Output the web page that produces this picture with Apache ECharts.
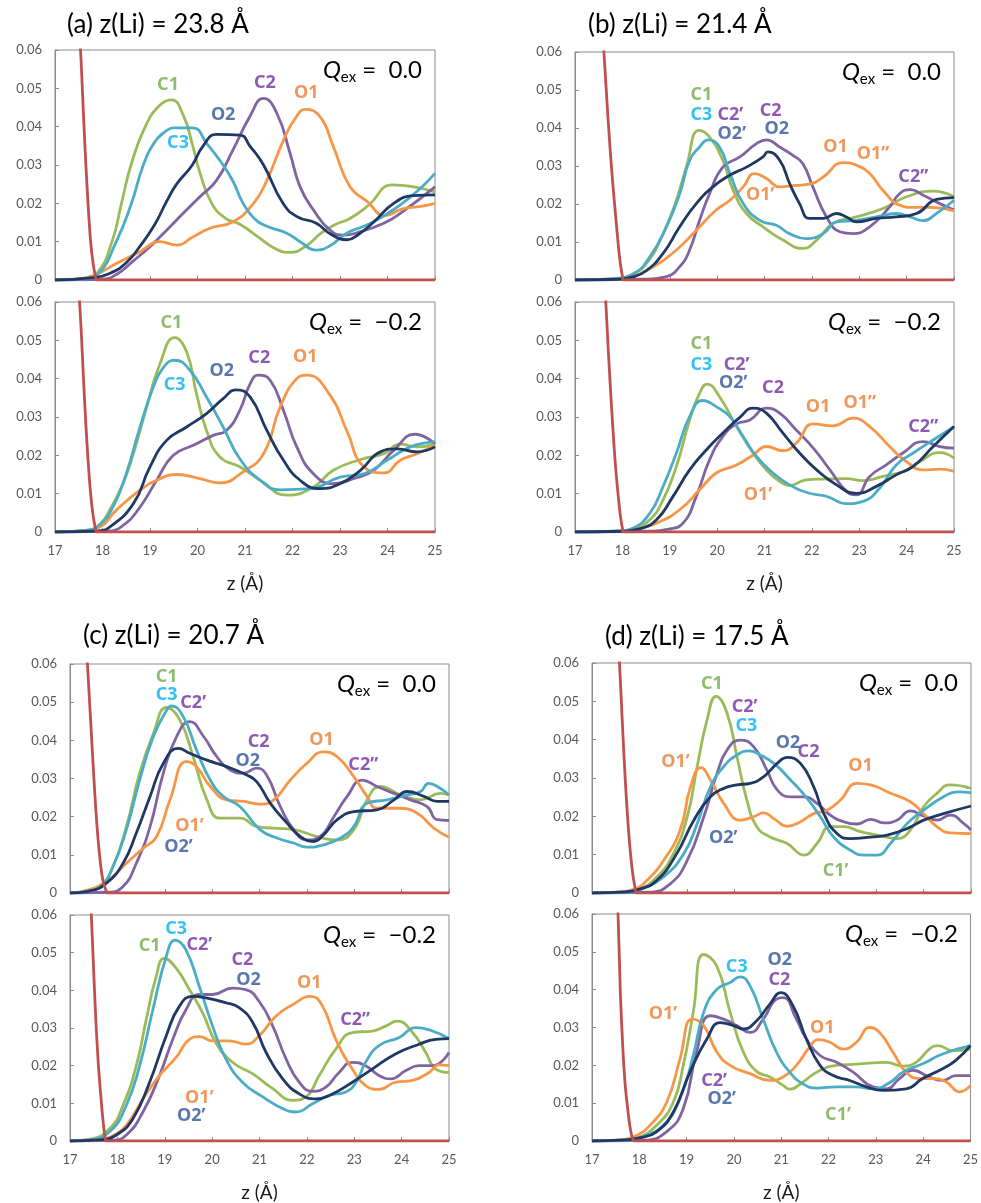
<!DOCTYPE html>
<html lang="en">
<head>
  <meta charset="UTF-8">
  <title>Density profiles</title>
  <script src="https://cdn.jsdelivr.net/npm/echarts@6/dist/echarts.min.js"></script>
  <style>
    html, body { margin: 0; padding: 0; background: #fff; }
    #wrap { width: 981px; height: 1203px; }
  </style>
</head>
<body>
<div id="wrap"></div>
<script>
  // ---- data: [z (Å), density] ----
  const titles = ['(a) z(Li) = 23.8 Å', '(b) z(Li) = 21.4 Å', '(c) z(Li) = 20.7 Å', '(d) z(Li) = 17.5 Å']
  const qexValues = ['0.0', '\u22120.2']
  const xTicks = [17, 18, 19, 20, 21, 22, 23, 24, 25]

  // (a) top, Qex = 0.0
  const a0Red = [[17.45,0.078],[17.5,0.068],[17.55,0.057],[17.6,0.043],[17.65,0.03],[17.7,0.019],[17.75,0.01],[17.8,0.0045],[17.85,0.001],[17.88,0],[18.2,0],[25,0]]
  const a0C1 = [[17,0],[17.6,0.0004],[17.9,0.002],[18.2,0.01],[18.4,0.02],[18.6,0.03],[18.9,0.04],[19.2,0.0455],[19.45,0.047],[19.7,0.043],[19.9,0.035],[20.05,0.028],[20.3,0.02],[20.6,0.016],[20.9,0.0145],[21.3,0.011],[21.7,0.0078],[21.95,0.0072],[22.3,0.009],[22.6,0.0122],[22.9,0.0145],[23.2,0.016],[23.6,0.0195],[24.1,0.0248],[24.5,0.0244],[25,0.023]]
  const a0C3 = [[17,0],[17.6,0.0003],[17.9,0.0015],[18.29,0.01],[18.61,0.02],[18.86,0.03],[19.1,0.036],[19.3,0.0385],[19.5,0.0397],[19.9,0.0397],[20.2,0.0355],[20.54,0.03],[20.75,0.0257],[20.96,0.02],[21.2,0.016],[21.46,0.014],[21.88,0.0122],[22.16,0.01],[22.5,0.0078],[22.8,0.009],[23.14,0.0122],[23.5,0.014],[23.78,0.0157],[24.27,0.0196],[24.7,0.024],[25,0.0278]]
  const a0O2 = [[17,0],[17.8,0.0006],[18.15,0.0017],[18.5,0.0045],[18.8,0.009],[19.1,0.0145],[19.35,0.0205],[19.56,0.025],[19.88,0.0298],[20.12,0.035],[20.4,0.038],[20.9,0.0378],[21.1,0.035],[21.39,0.03],[21.8,0.02],[22.1,0.0165],[22.5,0.0148],[22.8,0.012],[23.15,0.0105],[23.4,0.012],[23.7,0.015],[24.13,0.02],[24.55,0.022],[25,0.0222]]
  const a0C2 = [[17,0],[18,0.0002],[18.3,0.0015],[18.65,0.005],[19.0,0.0087],[19.35,0.013],[19.7,0.0174],[20.05,0.0217],[20.4,0.026],[20.75,0.034],[21.1,0.0426],[21.39,0.0474],[21.67,0.0435],[21.95,0.033],[22.16,0.0243],[22.44,0.0183],[22.79,0.013],[23.07,0.0117],[23.43,0.0126],[23.92,0.0148],[24.27,0.0174],[25,0.0243]]
  const a0O1 = [[17,0],[17.5,0.0003],[17.87,0.0015],[18.29,0.0043],[18.79,0.0074],[19.21,0.01],[19.56,0.0091],[19.91,0.0113],[20.26,0.0135],[20.75,0.0152],[21.18,0.02],[21.46,0.026],[21.81,0.0365],[22.05,0.042],[22.27,0.0445],[22.58,0.0426],[22.86,0.0348],[23.21,0.0243],[23.57,0.0205],[23.95,0.0168],[24.3,0.0185],[24.7,0.0192],[25,0.02]]
  const a0Labels = [[19.38,0.0509,'C1'],[19.59,0.0358,'C3'],[20.54,0.043,'O2'],[21.42,0.0513,'C2'],[22.29,0.0487,'O1']]

  // (a) bottom, Qex = -0.2
  const a1Red = [[17.45,0.08],[17.5,0.064],[17.55,0.053],[17.6,0.04],[17.65,0.028],[17.7,0.018],[17.75,0.01],[17.8,0.0045],[17.85,0.001],[17.88,0],[18.2,0],[25,0]]
  const a1C1 = [[17,0],[17.7,0.0005],[17.95,0.002],[18.15,0.0057],[18.43,0.0126],[18.65,0.0204],[18.93,0.0326],[19.21,0.0439],[19.52,0.0507],[19.77,0.047],[19.98,0.036],[20.19,0.0265],[20.47,0.0196],[20.89,0.017],[21.32,0.0135],[21.88,0.0096],[22.44,0.0117],[22.86,0.0161],[23.43,0.0189],[23.92,0.0204],[24.27,0.0229],[24.62,0.0222],[25,0.023]]
  const a1C3 = [[17,0],[17.7,0.0005],[17.95,0.002],[18.22,0.0065],[18.5,0.0152],[18.79,0.0274],[19.07,0.0378],[19.28,0.0429],[19.52,0.0448],[19.84,0.0422],[20.19,0.0352],[20.54,0.0274],[20.89,0.0191],[21.32,0.0135],[21.74,0.011],[22.37,0.0113],[23.0,0.0143],[23.5,0.0152],[23.99,0.0187],[24.48,0.0222],[25,0.0235]]
  const a1O2 = [[17,0],[17.9,0.0003],[18.15,0.0013],[18.65,0.0074],[19.0,0.017],[19.35,0.0239],[19.77,0.0274],[20.19,0.0309],[20.54,0.0348],[20.82,0.0371],[21.11,0.0352],[21.46,0.0265],[21.81,0.0187],[22.16,0.0135],[22.58,0.0113],[23.0,0.0126],[23.43,0.0161],[23.85,0.0209],[24.2,0.0217],[24.62,0.0209],[25,0.0222]]
  const a1C2 = [[17,0],[18.1,0.0002],[18.43,0.0017],[18.79,0.0065],[19.14,0.0135],[19.49,0.02],[19.91,0.0226],[20.33,0.0252],[20.61,0.0265],[20.89,0.0317],[21.11,0.0387],[21.28,0.0409],[21.53,0.0396],[21.81,0.0317],[22.09,0.0222],[22.44,0.0152],[22.86,0.0126],[23.28,0.0139],[23.71,0.0161],[24.13,0.0213],[24.58,0.0255],[25,0.023]]
  const a1O1 = [[17,0],[17.6,0.0004],[17.94,0.0013],[18.29,0.0057],[18.79,0.0109],[19.21,0.0139],[19.56,0.015],[20.05,0.0139],[20.47,0.0128],[20.96,0.0157],[21.39,0.0204],[21.74,0.0326],[22.09,0.04],[22.3,0.0409],[22.79,0.0357],[23.14,0.0265],[23.5,0.017],[23.92,0.0154],[24.27,0.0187],[24.62,0.0204],[25,0.0226]]
  const a1Labels = [[19.45,0.0545,'C1'],[19.52,0.0385,'C3'],[20.51,0.042,'O2'],[21.3,0.0454,'C2'],[22.27,0.0458,'O1']]

  // (b) top
  const b0Red = [[17.55,0.072],[17.6,0.062],[17.65,0.052],[17.7,0.042],[17.75,0.033],[17.8,0.025],[17.85,0.018],[17.9,0.011],[17.95,0.005],[18.0,0.001],[18.02,0],[18.3,0],[25,0]]
  const b0C1 = [[17,0],[17.8,0.0003],[18.15,0.0012],[18.51,0.0044],[18.86,0.0122],[19.14,0.021],[19.35,0.0297],[19.62,0.0394],[19.84,0.0376],[20.12,0.0315],[20.34,0.0236],[20.62,0.0175],[20.97,0.014],[21.39,0.0105],[21.81,0.0083],[22.1,0.0105],[22.45,0.0149],[22.94,0.0166],[23.5,0.0188],[24.0,0.0219],[24.56,0.0234],[25,0.0219]]
  const b0C3 = [[17,0],[17.8,0.0003],[18.22,0.0015],[18.58,0.0061],[18.93,0.014],[19.21,0.0227],[19.42,0.0315],[19.63,0.035],[19.81,0.0369],[20.05,0.035],[20.27,0.028],[20.55,0.0201],[20.9,0.0157],[21.25,0.0144],[21.53,0.0122],[21.88,0.0109],[22.24,0.0122],[22.52,0.0153],[22.94,0.0157],[23.36,0.0166],[23.78,0.0175],[24.07,0.0166],[24.35,0.0156],[24.63,0.0175],[25,0.021]]
  const b0O2 = [[17,0],[17.9,0.0002],[18.22,0.0008],[18.51,0.0025],[18.86,0.007],[19.21,0.014],[19.56,0.0201],[19.91,0.0245],[20.27,0.0276],[20.62,0.0297],[20.97,0.0324],[21.07,0.0337],[21.32,0.0315],[21.53,0.0254],[21.74,0.0201],[21.95,0.0162],[22.24,0.0162],[22.52,0.0175],[22.73,0.0166],[22.94,0.0153],[23.36,0.0162],[23.78,0.0166],[24.21,0.0175],[24.63,0.0212],[25,0.0217]]
  const b0C2 = [[17,0],[18.5,0.0002],[18.93,0.0009],[19.21,0.0035],[19.42,0.0079],[19.63,0.0157],[19.84,0.0227],[20.12,0.0297],[20.48,0.0324],[20.83,0.0359],[21.04,0.0369],[21.32,0.035],[21.6,0.0328],[21.81,0.0306],[22.02,0.0245],[22.31,0.0166],[22.59,0.0127],[22.87,0.0122],[23.22,0.014],[23.64,0.0192],[23.85,0.0227],[24.08,0.0238],[24.35,0.0223],[24.7,0.0201],[25,0.0184]]
  const b0O1 = [[17,0],[17.9,0.0002],[18.2,0.0008],[18.65,0.0035],[19.14,0.0079],[19.56,0.0131],[19.98,0.0184],[20.27,0.021],[20.55,0.0245],[20.79,0.028],[21.04,0.0267],[21.32,0.0245],[21.67,0.0249],[21.95,0.0252],[22.24,0.0271],[22.66,0.0309],[22.94,0.0302],[23.22,0.028],[23.5,0.0236],[23.85,0.0197],[24.14,0.0191],[24.49,0.0191],[25,0.0182]]
  const b0Labels = [[19.67,0.0487,'C1'],[19.67,0.0435,'C3'],[20.28,0.0435,'C2\u2019'],[20.31,0.0385,'O2\u2019'],[21.13,0.0446,'C2'],[21.26,0.0398,'O2'],[22.5,0.035,'O1'],[23.29,0.0331,'O1\u201D'],[20.91,0.0223,'O1\u2019'],[24.14,0.0271,'C2\u201D']]

  // (b) bottom
  const b1Red = [[17.6,0.07],[17.65,0.06],[17.7,0.048],[17.75,0.037],[17.8,0.027],[17.85,0.018],[17.9,0.011],[17.95,0.005],[18.0,0.001],[18.02,0],[18.3,0],[25,0]]
  const b1C1 = [[17,0],[17.9,0.0002],[18.22,0.0008],[18.58,0.0032],[18.86,0.0084],[19.14,0.0171],[19.42,0.0292],[19.63,0.0362],[19.79,0.0386],[20.05,0.0353],[20.41,0.0275],[20.76,0.0206],[21.04,0.0162],[21.32,0.0132],[21.53,0.0121],[21.88,0.0136],[22.24,0.0138],[22.73,0.0139],[23.08,0.0134],[23.5,0.0145],[23.92,0.0158],[24.28,0.0184],[24.7,0.0207],[25,0.0193]]
  const b1C3 = [[17,0],[17.9,0.0002],[18.22,0.001],[18.58,0.0049],[18.86,0.0119],[19.14,0.0206],[19.42,0.0301],[19.7,0.0343],[19.98,0.0327],[20.27,0.0301],[20.55,0.0249],[20.83,0.0197],[21.18,0.0154],[21.53,0.0123],[21.95,0.0101],[22.31,0.0093],[22.73,0.0074],[23.08,0.008],[23.43,0.0114],[23.78,0.0175],[24.14,0.0206],[24.56,0.024],[25,0.0275]]
  const b1O2 = [[17,0],[18.0,0.0002],[18.36,0.0008],[18.72,0.0032],[19.07,0.0093],[19.42,0.0162],[19.77,0.0214],[20.12,0.0258],[20.48,0.0299],[20.76,0.0323],[21.04,0.031],[21.39,0.0258],[21.74,0.0206],[22.1,0.0162],[22.52,0.0123],[22.94,0.0101],[23.36,0.0119],[23.78,0.0149],[24.14,0.0171],[24.56,0.0223],[25,0.0275]]
  const b1C2 = [[17,0],[18.6,0.0002],[18.95,0.0007],[19.28,0.0023],[19.56,0.0093],[19.84,0.0188],[20.12,0.0249],[20.41,0.0282],[20.69,0.0292],[21.04,0.0323],[21.32,0.031],[21.67,0.0266],[22.03,0.0219],[22.38,0.0162],[22.73,0.0106],[22.94,0.0097],[23.22,0.0145],[23.57,0.0175],[23.92,0.0206],[24.35,0.0236],[24.7,0.0223],[25,0.0219]]
  const b1O1 = [[17,0],[17.9,0.0002],[18.3,0.0008],[18.72,0.0023],[19.21,0.0058],[19.63,0.011],[19.98,0.0154],[20.41,0.0175],[20.76,0.0201],[21.04,0.0223],[21.39,0.0212],[21.67,0.0232],[22.03,0.0282],[22.45,0.0277],[22.87,0.0297],[23.22,0.0275],[23.64,0.0223],[23.99,0.0184],[24.35,0.0162],[24.7,0.0164],[25,0.0158]]
  const b1Labels = [[19.67,0.049,'C1'],[19.67,0.0435,'C3'],[20.41,0.0435,'C2\u2019'],[20.34,0.0388,'O2\u2019'],[21.18,0.0376,'C2'],[22.13,0.0327,'O1'],[23.01,0.0336,'O1\u201D'],[20.86,0.0097,'O1\u2019'],[24.35,0.0275,'C2\u201D']]

  // (c) top
  const c0Red = [[17.3,0.075],[17.35,0.064],[17.4,0.053],[17.45,0.042],[17.5,0.031],[17.55,0.021],[17.6,0.013],[17.65,0.007],[17.7,0.003],[17.75,0.001],[17.8,0],[18.1,0],[25,0]]
  const c0C1 = [[17,0],[17.3,0.0003],[17.63,0.0017],[17.91,0.007],[18.19,0.0174],[18.47,0.0314],[18.76,0.0418],[19.04,0.0486],[19.32,0.0453],[19.6,0.0357],[19.89,0.0244],[20.17,0.0196],[20.59,0.0196],[20.94,0.0174],[21.3,0.017],[21.72,0.0166],[22.21,0.0148],[22.64,0.0139],[22.99,0.0166],[23.27,0.0244],[23.55,0.0279],[23.98,0.0257],[24.4,0.0244],[24.82,0.0261],[25,0.0257]]
  const c0C3 = [[17,0],[17.3,0.0003],[17.63,0.0015],[17.91,0.007],[18.19,0.0166],[18.47,0.0296],[18.76,0.041],[19.04,0.0479],[19.14,0.049],[19.39,0.0462],[19.67,0.0375],[19.96,0.0296],[20.24,0.0253],[20.59,0.0226],[21.01,0.0166],[21.37,0.0144],[21.72,0.0131],[22.0,0.012],[22.35,0.0126],[22.71,0.0144],[22.99,0.0174],[23.27,0.0235],[23.69,0.0244],[24.12,0.0257],[24.4,0.0266],[24.57,0.0287],[24.82,0.0274],[25,0.0257]]
  const c0O2 = [[17,0],[17.4,0.0005],[17.77,0.0026],[18.12,0.0078],[18.4,0.0157],[18.69,0.0253],[18.97,0.034],[19.29,0.0379],[19.53,0.0366],[19.89,0.0348],[20.31,0.0331],[20.73,0.0309],[20.94,0.0292],[21.23,0.0235],[21.58,0.0183],[21.86,0.0148],[22.14,0.0135],[22.35,0.0152],[22.64,0.0192],[22.99,0.0213],[23.48,0.0218],[23.84,0.0244],[24.12,0.0266],[24.47,0.0253],[24.75,0.024],[25,0.024]]
  const c0C2 = [[17,0],[17.8,0.0002],[18.12,0.0017],[18.4,0.0078],[18.69,0.0174],[18.97,0.0314],[19.25,0.041],[19.53,0.0449],[19.82,0.041],[20.1,0.0357],[20.38,0.0322],[20.66,0.0314],[20.94,0.0327],[21.15,0.0309],[21.44,0.0226],[21.72,0.0166],[22.0,0.0139],[22.28,0.0148],[22.57,0.02],[22.85,0.0253],[23.17,0.0296],[23.48,0.0279],[23.84,0.0261],[24.19,0.0244],[24.54,0.0226],[24.75,0.0192],[25,0.019]]
  const c0O1 = [[17,0],[17.3,0.0005],[17.6,0.0018],[17.91,0.0044],[18.19,0.0078],[18.55,0.0118],[18.83,0.0148],[19.11,0.0244],[19.46,0.0344],[19.67,0.0331],[19.96,0.0279],[20.31,0.0244],[20.66,0.024],[21.01,0.0233],[21.3,0.0244],[21.65,0.0296],[22.0,0.034],[22.35,0.037],[22.64,0.0357],[22.99,0.0305],[23.27,0.0253],[23.48,0.0222],[23.91,0.0222],[24.33,0.0209],[24.68,0.017],[25,0.0146]]
  const c0Labels = [[19.04,0.0566,'C1'],[19.04,0.052,'C3'],[19.6,0.0498,'C2\u2019'],[20.98,0.0395,'C2'],[20.75,0.0347,'O2'],[22.31,0.0402,'O1'],[23.19,0.0335,'C2\u201D'],[19.52,0.0177,'O1\u2019'],[19.29,0.0122,'O2\u2019']]

  // (c) bottom
  const c1Red = [[17.4,0.072],[17.45,0.06],[17.5,0.045],[17.55,0.031],[17.6,0.02],[17.65,0.012],[17.7,0.005],[17.74,0.001],[17.77,0],[18.1,0],[25,0]]
  const c1C1 = [[17,0],[17.4,0.0004],[17.84,0.0033],[18.12,0.0095],[18.4,0.02],[18.61,0.0323],[18.82,0.0437],[18.99,0.0485],[19.24,0.0459],[19.52,0.0402],[19.8,0.034],[20.08,0.0261],[20.43,0.0209],[20.86,0.0178],[21.28,0.0139],[21.7,0.0108],[21.98,0.0117],[22.26,0.0174],[22.61,0.0244],[22.96,0.0288],[23.38,0.0292],[23.66,0.0305],[23.91,0.0318],[24.23,0.0288],[24.51,0.0235],[24.72,0.0191],[25,0.0182]]
  const c1C3 = [[17,0],[17.4,0.0003],[17.84,0.0025],[18.19,0.0095],[18.47,0.02],[18.75,0.0349],[19.03,0.0489],[19.22,0.0533],[19.45,0.0507],[19.73,0.041],[20.01,0.0305],[20.29,0.0218],[20.64,0.0156],[21.07,0.0117],[21.49,0.0086],[21.77,0.0077],[22.12,0.0099],[22.47,0.0121],[22.82,0.013],[23.04,0.0156],[23.24,0.0209],[23.52,0.0253],[23.95,0.0275],[24.3,0.0301],[24.65,0.0292],[25,0.0272]]
  const c1O2 = [[17,0],[17.6,0.0003],[17.98,0.0016],[18.33,0.006],[18.68,0.0156],[19.03,0.0279],[19.31,0.0358],[19.59,0.0384],[19.87,0.038],[20.29,0.0367],[20.57,0.0354],[20.86,0.0314],[21.14,0.0235],[21.49,0.0165],[21.84,0.0125],[22.19,0.0112],[22.54,0.0125],[22.96,0.0156],[23.38,0.0191],[23.87,0.0231],[24.37,0.0257],[24.72,0.027],[25,0.0272]]
  const c1C2 = [[17,0],[17.9,0.0002],[18.19,0.0016],[18.54,0.0077],[18.89,0.0174],[19.17,0.027],[19.45,0.0349],[19.73,0.0389],[20.01,0.0389],[20.43,0.0406],[20.71,0.0402],[20.99,0.0371],[21.28,0.0305],[21.56,0.0218],[21.84,0.0156],[22.12,0.0132],[22.4,0.0143],[22.68,0.0182],[22.96,0.0209],[23.24,0.02],[23.52,0.0174],[23.77,0.0165],[24.09,0.0187],[24.37,0.02],[24.65,0.02],[25,0.0235]]
  const c1O1 = [[17,0],[17.6,0.0003],[17.84,0.001],[18.19,0.0042],[18.54,0.0112],[18.89,0.0174],[19.24,0.0222],[19.52,0.027],[19.73,0.0277],[20.01,0.0266],[20.36,0.0266],[20.71,0.0257],[20.99,0.0279],[21.35,0.0332],[21.7,0.0362],[22.08,0.0384],[22.33,0.0358],[22.61,0.027],[22.96,0.0191],[23.24,0.0147],[23.52,0.0137],[23.87,0.0156],[24.23,0.0161],[24.58,0.0182],[24.79,0.0202],[25,0.02]]
  const c1Labels = [[19.24,0.0564,'C3'],[18.68,0.0518,'C1'],[19.73,0.052,'C2\u2019'],[20.64,0.0481,'C2'],[20.77,0.0428,'O2'],[22.05,0.0421,'O1'],[23.02,0.0321,'C2\u201D'],[19.73,0.0115,'O1\u2019'],[19.56,0.0066,'O2\u2019']]

  // (d) top
  const d0Red = [[17.5,0.078],[17.55,0.067],[17.6,0.055],[17.65,0.042],[17.7,0.03],[17.75,0.02],[17.8,0.012],[17.85,0.006],[17.9,0.002],[17.95,0],[18.3,0],[25,0]]
  const d0C1 = [[17,0],[17.7,0.0003],[17.95,0.0008],[18.37,0.0042],[18.72,0.0103],[19.01,0.0199],[19.22,0.033],[19.43,0.0452],[19.62,0.0513],[19.85,0.0469],[20.06,0.0356],[20.27,0.0242],[20.48,0.0173],[20.76,0.0146],[21.12,0.0129],[21.47,0.0099],[21.75,0.0129],[22.03,0.0173],[22.31,0.0173],[22.67,0.016],[23.02,0.0151],[23.44,0.0142],[23.72,0.0164],[24.0,0.0225],[24.28,0.026],[24.56,0.0282],[25,0.0273]]
  const d0C3 = [[17,0],[17.8,0.0003],[18.05,0.001],[18.51,0.0042],[18.94,0.0103],[19.22,0.0181],[19.5,0.0277],[19.78,0.033],[20.06,0.036],[20.31,0.0371],[20.55,0.036],[20.84,0.0338],[21.19,0.0295],[21.54,0.0247],[21.82,0.0199],[22.1,0.0146],[22.45,0.0112],[22.74,0.0099],[23.02,0.0099],[23.3,0.0129],[23.65,0.0181],[24.0,0.0216],[24.42,0.0251],[24.71,0.0264],[25,0.0262]]
  const d0O2 = [[17,0],[17.7,0.0003],[18.0,0.001],[18.37,0.0033],[18.79,0.0103],[19.15,0.019],[19.5,0.0251],[19.78,0.0273],[20.06,0.0282],[20.34,0.0286],[20.62,0.0303],[20.91,0.0338],[21.12,0.0354],[21.4,0.0338],[21.68,0.0277],[21.89,0.0208],[22.17,0.0155],[22.45,0.0142],[22.88,0.0146],[23.23,0.0151],[23.65,0.0168],[24.0,0.019],[24.42,0.0207],[25,0.0227]]
  const d0C2 = [[17,0],[18.2,0.0002],[18.65,0.0024],[19.01,0.0085],[19.36,0.0199],[19.64,0.0312],[19.85,0.0373],[20.13,0.0399],[20.41,0.0382],[20.69,0.0321],[20.91,0.0269],[21.19,0.0251],[21.47,0.0251],[21.75,0.0234],[22.03,0.0203],[22.31,0.0186],[22.6,0.018],[22.88,0.0192],[23.16,0.0183],[23.44,0.019],[23.72,0.0214],[24.0,0.0201],[24.28,0.019],[24.56,0.0203],[24.85,0.0181],[25,0.0164]]
  const d0O1 = [[17,0],[17.6,0.0003],[17.9,0.001],[18.16,0.0033],[18.51,0.0085],[18.86,0.0164],[19.08,0.0277],[19.3,0.0327],[19.5,0.0295],[19.78,0.0234],[20.13,0.019],[20.41,0.0199],[20.62,0.0209],[20.84,0.0194],[21.12,0.0174],[21.4,0.0186],[21.68,0.0207],[21.96,0.0216],[22.24,0.0242],[22.59,0.0286],[22.88,0.0282],[23.3,0.026],[23.72,0.0238],[24.0,0.0207],[24.28,0.0173],[24.56,0.0157],[25,0.0155]]
  const d0Labels = [[19.53,0.0546,'C1'],[20.22,0.0486,'C2\u2019'],[20.26,0.0436,'C3'],[21.14,0.0392,'O2'],[21.57,0.0368,'C2'],[22.67,0.0331,'O1'],[18.76,0.0343,'O1\u2019'],[19.77,0.0144,'O2\u2019'],[22.14,0.0057,'C1\u2019']]

  // (d) bottom
  const d1Red = [[17.5,0.072],[17.55,0.06],[17.6,0.039],[17.65,0.025],[17.7,0.015],[17.75,0.009],[17.8,0.004],[17.85,0.001],[17.9,0],[18.2,0],[25,0]]
  const d1C1 = [[17,0],[17.7,0.0003],[17.95,0.0008],[18.37,0.0042],[18.72,0.0103],[18.93,0.02],[19.14,0.034],[19.36,0.0493],[19.64,0.0462],[19.92,0.034],[20.2,0.0235],[20.48,0.0184],[20.76,0.0169],[21.04,0.0147],[21.18,0.0137],[21.46,0.0156],[21.75,0.0182],[22.17,0.02],[22.59,0.0203],[23.22,0.0208],[23.57,0.0198],[23.85,0.0208],[24.13,0.0243],[24.31,0.0252],[24.63,0.0239],[25,0.0243]]
  const d1C3 = [[17,0],[17.8,0.0003],[18.05,0.001],[18.51,0.0042],[18.86,0.0112],[19.14,0.0226],[19.36,0.034],[19.64,0.0401],[19.92,0.0419],[20.13,0.0434],[20.34,0.041],[20.62,0.0322],[20.9,0.0235],[21.18,0.0182],[21.46,0.0151],[21.75,0.014],[22.17,0.0143],[22.59,0.0143],[22.94,0.0138],[23.29,0.0154],[23.57,0.0182],[23.99,0.0204],[24.41,0.023],[25,0.0252]]
  const d1O2 = [[17,0],[17.7,0.0003],[18.0,0.0008],[18.37,0.0025],[18.72,0.0077],[19.07,0.0182],[19.43,0.027],[19.71,0.0313],[19.99,0.0305],[20.2,0.0296],[20.48,0.0318],[20.76,0.0362],[20.99,0.0392],[21.25,0.0357],[21.53,0.027],[21.82,0.02],[22.1,0.0173],[22.45,0.016],[22.8,0.0143],[23.15,0.0134],[23.64,0.0138],[23.99,0.0165],[24.41,0.0191],[24.69,0.0213],[25,0.0252]]
  const d1C2 = [[17,0],[18.1,0.0002],[18.58,0.0025],[18.93,0.0086],[19.21,0.0235],[19.5,0.0331],[19.78,0.0322],[20.06,0.0305],[20.34,0.0287],[20.62,0.0322],[20.9,0.0375],[21.04,0.0379],[21.32,0.0322],[21.53,0.027],[21.82,0.0226],[22.17,0.0208],[22.52,0.0182],[22.94,0.0143],[23.22,0.0138],[23.5,0.0165],[23.78,0.0187],[24.13,0.0169],[24.41,0.016],[24.69,0.0173],[25,0.0173]]
  const d1O1 = [[17,0],[17.6,0.0003],[17.9,0.0012],[18.23,0.0042],[18.58,0.0103],[18.86,0.0217],[19.12,0.0322],[19.36,0.0305],[19.64,0.0235],[19.92,0.02],[20.34,0.0178],[20.76,0.016],[21.04,0.0169],[21.32,0.02],[21.6,0.0248],[21.78,0.0268],[22.03,0.0261],[22.31,0.0243],[22.59,0.0261],[22.87,0.03],[23.08,0.0287],[23.36,0.0235],[23.64,0.0182],[23.92,0.0165],[24.21,0.0165],[24.49,0.0156],[24.77,0.013],[25,0.0147]]
  const d1Labels = [[20.06,0.0461,'C3'],[20.97,0.048,'O2'],[20.96,0.0426,'C2'],[18.5,0.0335,'O1\u2019'],[21.87,0.03,'O1'],[19.58,0.016,'C2\u2019'],[19.74,0.0112,'O2\u2019'],[22.2,0.0068,'C1\u2019']]

  // ---- layout & style ----
  const FONT = 'Lato, "Open Sans", sans-serif'
  const LABEL_FONT = '"Noto Sans", "Open Sans", sans-serif'
  const lineColors = { C1: '#9BBB59', C3: '#4BACC6', O2: '#1F3864', C2: '#8064A2', O1: '#F79646', red: '#C0504D' }
  const labelColors = { C1: '#70AD47', C3: '#00B0F0', O2: '#2F5597', C2: '#7030A0', O1: '#ED7D31' }

  // [left, top, width, height] of each plot box, q = index into qexValues
  const panels = [
    { rect: [55, 50, 380, 230], q: 0, bottom: false, s: { red: a0Red, C1: a0C1, C3: a0C3, O2: a0O2, C2: a0C2, O1: a0O1 }, labels: a0Labels },
    { rect: [55, 302, 380, 230], q: 1, bottom: true,  s: { red: a1Red, C1: a1C1, C3: a1C3, O2: a1O2, C2: a1C2, O1: a1O1 }, labels: a1Labels },
    { rect: [575, 52, 379, 228], q: 0, bottom: false, s: { red: b0Red, C1: b0C1, C3: b0C3, O2: b0O2, C2: b0C2, O1: b0O1 }, labels: b0Labels },
    { rect: [575, 302, 379, 230], q: 1, bottom: true,  s: { red: b1Red, C1: b1C1, C3: b1C3, O2: b1O2, C2: b1C2, O1: b1O1 }, labels: b1Labels },
    { rect: [70, 664, 379, 229], q: 0, bottom: false, s: { red: c0Red, C1: c0C1, C3: c0C3, O2: c0O2, C2: c0C2, O1: c0O1 }, labels: c0Labels },
    { rect: [70, 915, 379, 228], q: 1, bottom: true,  s: { red: c1Red, C1: c1C1, C3: c1C3, O2: c1O2, C2: c1C2, O1: c1O1 }, labels: c1Labels },
    { rect: [592, 663, 379, 230], q: 0, bottom: false, s: { red: d0Red, C1: d0C1, C3: d0C3, O2: d0O2, C2: d0C2, O1: d0O1 }, labels: d0Labels },
    { rect: [592, 914, 379, 229], q: 1, bottom: true,  s: { red: d1Red, C1: d1C1, C3: d1C3, O2: d1O2, C2: d1C2, O1: d1O1 }, labels: d1Labels }
  ]
  const titlePos = [[67, 12], [588, 12], [83, 623], [605, 624]]
  const drawOrder = ['C1', 'C2', 'O1', 'C3', 'O2', 'red']

  const grid = [], xAxis = [], yAxis = [], series = [], graphic = []

  panels.forEach((p, i) => {
    const [l, t, w, h] = p.rect
    grid.push({ left: l, top: t, width: w, height: h, show: true, borderColor: '#8c8c8c', borderWidth: 1, containLabel: false })

    xAxis.push({
      gridIndex: i, type: 'value', min: xTicks[0], max: xTicks[xTicks.length - 1], interval: 1,
      axisLine: { lineStyle: { color: '#8c8c8c' } },
      axisTick: { inside: true, length: 4, lineStyle: { color: '#8c8c8c' } },
      axisLabel: { show: p.bottom, color: '#595959', fontSize: 13, margin: 12, fontFamily: FONT },
      splitLine: { show: false },
      name: p.bottom ? 'z (Å)' : '', nameLocation: 'middle', nameGap: 42,
      nameTextStyle: { fontSize: 19, color: '#1a1a1a', fontFamily: FONT }
    })
    yAxis.push({
      gridIndex: i, type: 'value', min: 0, max: 0.06, interval: 0.01,
      axisLine: { show: true, lineStyle: { color: '#8c8c8c' } },
      axisTick: { show: true, inside: true, length: 4, lineStyle: { color: '#8c8c8c' } },
      axisLabel: { color: '#595959', fontSize: 13, margin: 13, fontFamily: FONT,
        formatter: v => v === 0 ? '0' : v.toFixed(2) },
      splitLine: { show: false }
    })

    drawOrder.forEach((k, j) => {
      series.push({
        type: 'line', xAxisIndex: i, yAxisIndex: i, data: p.s[k],
        smooth: k === 'red' ? 0.3 : 0.5,
        symbol: 'none', clip: true, silent: true, z: 2 + j,
        lineStyle: { color: lineColors[k], width: 2.8 }
      })
    })

    // peak labels
    series.push({
      type: 'scatter', xAxisIndex: i, yAxisIndex: i, symbolSize: 0, silent: true, z: 20, clip: false,
      data: p.labels.map(d => ({ value: [d[0], d[1]], name: d[2], label: { color: labelColors[d[2].slice(0, 2)] } })),
      label: { show: true, position: 'inside', formatter: '{b}', fontSize: 18, fontWeight: 'bold', fontFamily: LABEL_FONT }
    })

    // Q_ex text, upper right
    graphic.push({
      type: 'text', right: 981 - (l + w - 13), top: t + 8, z: 30,
      style: {
        text: '{q|Q}{s|ex}{n| =  ' + qexValues[p.q] + '}',
        rich: {
          q: { fontSize: 24, fontStyle: 'italic', fontFamily: FONT, fill: '#000', lineHeight: 30 },
          s: { fontSize: 15, fontFamily: FONT, fill: '#000', lineHeight: 16, verticalAlign: 'bottom' },
          n: { fontSize: 24, fontFamily: FONT, fill: '#000', lineHeight: 30 }
        }
      }
    })
  })

  const title = titles.map((txt, i) => ({
    text: txt, left: titlePos[i][0], top: titlePos[i][1], padding: 0,
    textStyle: { fontSize: 26, fontWeight: 'normal', color: '#000', fontFamily: FONT }
  }))

  const chart = echarts.init(document.querySelector('#wrap'))
  chart.setOption({
    animation: false,
    backgroundColor: '#fff',
    title, grid, xAxis, yAxis, series, graphic
  })
</script>
</body>
</html>
